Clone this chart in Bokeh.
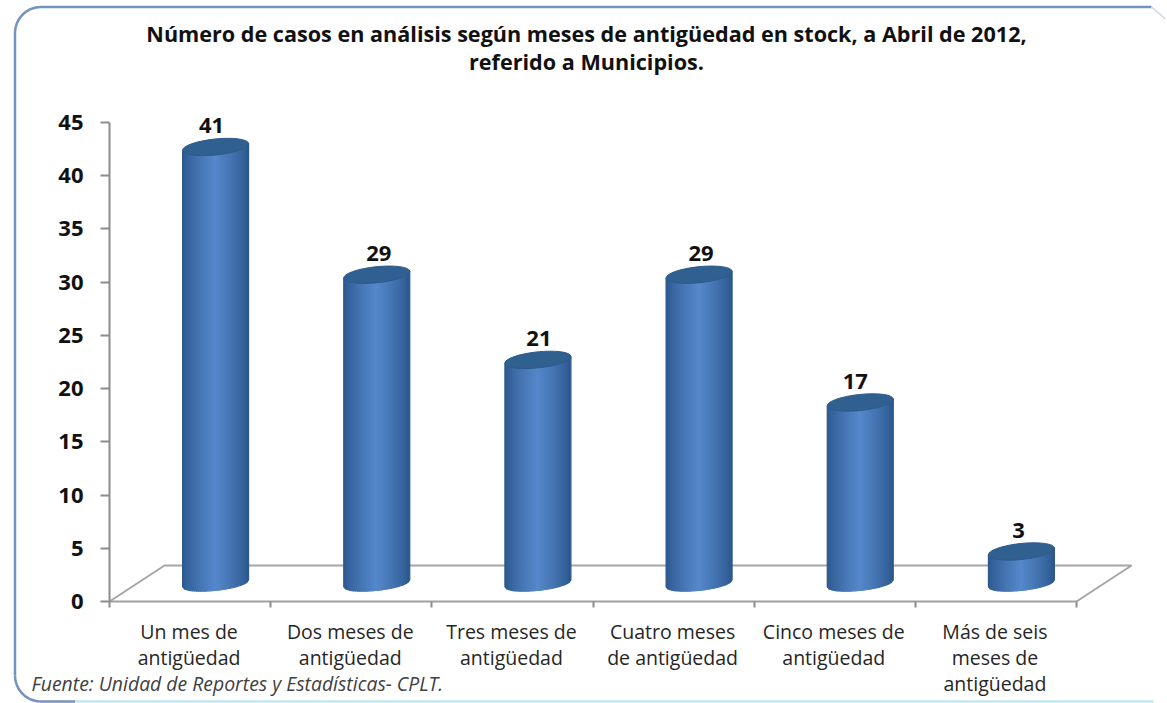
import numpy as np
from bokeh.core.properties import value
from bokeh.embed import file_html
from bokeh.models import FixedTicker, Range1d
from bokeh.plotting import figure
from bokeh.resources import INLINE

categories = ["Un mes de\nantigüedad", "Dos meses de\nantigüedad", "Tres meses de\nantigüedad",
              "Cuatro meses\nde antigüedad", "Cinco meses de\nantigüedad", "Más de seis\nmeses de\nantigüedad"]
casos = [41, 29, 21, 29, 17, 3]
y_ticks = [0, 5, 10, 15, 20, 25, 30, 35, 40, 45]
title_lines = ["Número de casos en análisis según meses de antigüedad en stock, a Abril de 2012,",
               "referido a Municipios."]
fuente = "Fuente: Unidad de Reportes y Estadísticas- CPLT."
FONT = "Open Sans"

W, H = 1167, 703
OX, OY = 0, 0
PX_X = 967 / 6      # pixels per category
PX_Y = 479 / 45     # pixels per unit
X0, Y0 = 109, 601   # pixels of the axes origin


def dx(px):
    return (px - X0) / PX_X


def dy(px):
    return (Y0 - px) / PX_Y


p = figure(width=W, height=H, output_backend="svg", toolbar_location=None,
           x_range=Range1d(dx(OX), dx(OX + W)), y_range=Range1d(dy(OY + H), dy(OY)),
           min_border=0, outline_line_color=None, background_fill_color="white",
           border_fill_color="white")
p.grid.visible = False

# rounded frame
r = 26
t = np.linspace(0, np.pi / 2, 14)
L, T, R, B = 14.5, 6.5, 1165, 701
p.line([dx(v) for v in np.r_[L, L + r - r * np.cos(t), R - 14]],
       [dy(v) for v in np.r_[B - r, T + r - r * np.sin(t), T]],
       line_color="#7593bf", line_width=2.5)
p.line([dx(v) for v in np.r_[L, L + r - r * np.cos(t), L + 60]],
       [dy(v) for v in np.r_[B - r, B - r + r * np.sin(t), B]],
       line_color="#7593bf", line_width=2.5)
p.line([dx(L + 60), dx(R - 12)], [dy(B), dy(B)], line_color="#bfeaf2", line_width=2.5)
p.line([dx(R - 14), dx(R)], [dy(T), dy(T + 12)], line_color="#c9d6e6", line_width=1.5)

# floor of the 3D plot
depth_x, depth_y = 55, 36
fx = [0, depth_x / PX_X, 6 + depth_x / PX_X, 6]
fy = [0, depth_y / PX_Y, depth_y / PX_Y, 0]
p.line(fx, fy, line_color="#a6a6a6", line_width=2)

# cylinders
half_w = 33
ell_b = 8
foot_b = 7
tilt = 0.105
base = 1.7
offset = 25.5 / PX_X
centers = [i + 0.5 + offset for i in range(len(casos))]
edges = np.linspace(-half_w, half_w, 34)


def shade(u):
    c0 = np.array([42, 86, 139])
    c1 = np.array([86, 136, 203])
    s = (1 - abs(u)) ** 0.75
    return "#%02x%02x%02x" % tuple(int(v) for v in c0 + (c1 - c0) * s)


xs, ys, cols = [], [], []
for c, v in zip(centers, casos):
    for a, b in zip(edges[:-1], edges[1:]):
        top_a, top_b = base + v + a * tilt / PX_Y, base + v + b * tilt / PX_Y
        bot_a = base + (a * tilt - foot_b * np.sqrt(max(0, 1 - (a / half_w) ** 2))) / PX_Y
        bot_b = base + (b * tilt - foot_b * np.sqrt(max(0, 1 - (b / half_w) ** 2))) / PX_Y
        xs.append([c + a / PX_X, c + b / PX_X, c + b / PX_X, c + a / PX_X])
        ys.append([top_a, top_b, bot_b, bot_a])
        cols.append(shade((a + b) / 2 / half_w))
p.patches(xs, ys, fill_color=cols, line_color=cols, line_width=1.2)
p.ellipse(centers, [v + base for v in casos], width=2 * half_w + 0.5, height=2 * ell_b,
          width_units="screen", height_units="screen", angle=np.arctan(tilt),
          fill_color="#30608f", line_color="#2d5a8c", line_width=1)

# value labels
nudge = [-4, 2, 1, 2, -5, -3]
p.text([c + n / PX_X for c, n in zip(centers, nudge)], [v + base + 21 / PX_Y for v in casos],
       text=[str(v) for v in casos],
       text_font=value(FONT), text_font_style="bold", text_font_size="22px",
       text_color="#111111", text_align="center", text_baseline="middle")

# axes
p.yaxis.fixed_location = 0
p.yaxis.ticker = FixedTicker(ticks=y_ticks)
p.yaxis.bounds = (0, 45)
p.yaxis.axis_line_color = "#8c8c8c"
p.yaxis.axis_line_width = 2
p.yaxis.major_tick_line_color = "#8c8c8c"
p.yaxis.major_tick_line_width = 2
p.yaxis.major_tick_out = 9
p.yaxis.major_tick_in = 0
p.yaxis.minor_tick_line_color = None
p.yaxis.major_label_standoff = 17
p.yaxis.major_label_text_font = FONT
p.yaxis.major_label_text_font_style = "bold"
p.yaxis.major_label_text_font_size = "22px"
p.yaxis.major_label_text_color = "#111111"

p.xaxis.fixed_location = 0
p.xaxis.ticker = FixedTicker(ticks=list(range(len(casos) + 1)))
p.xaxis.bounds = (0, len(casos))
p.xaxis.axis_line_color = "#a0a0a0"
p.xaxis.axis_line_width = 2
p.xaxis.major_tick_line_color = "#8c8c8c"
p.xaxis.major_tick_line_width = 2
p.xaxis.major_tick_out = 6
p.xaxis.major_tick_in = 0
p.xaxis.minor_tick_line_color = None
p.xaxis.major_label_text_font_size = "0px"
p.xaxis.major_label_overrides = {i: "" for i in range(len(casos) + 1)}

# category labels
p.text([i + 0.5 - 1 / PX_X for i in range(len(categories))], [dy(617)] * len(categories), text=categories,
       text_font=value(FONT), text_font_size="19.5px", text_color="#262626",
       text_align="center", text_baseline="top", text_line_height=0.98)

# title and source
p.text([dx(586), dx(586)], [dy(33), dy(61)], text=title_lines,
       text_font=value(FONT), text_font_style="bold", text_font_size="21.6px",
       text_color="#111111", text_align="center", text_baseline="middle")
p.text([dx(31)], [dy(683)], text=[fuente], text_font=value(FONT), text_font_style="italic",
       text_font_size="19.4px", text_color="#404040", text_align="left", text_baseline="middle")

open("out.html", "w").write(file_html(p, INLINE))
